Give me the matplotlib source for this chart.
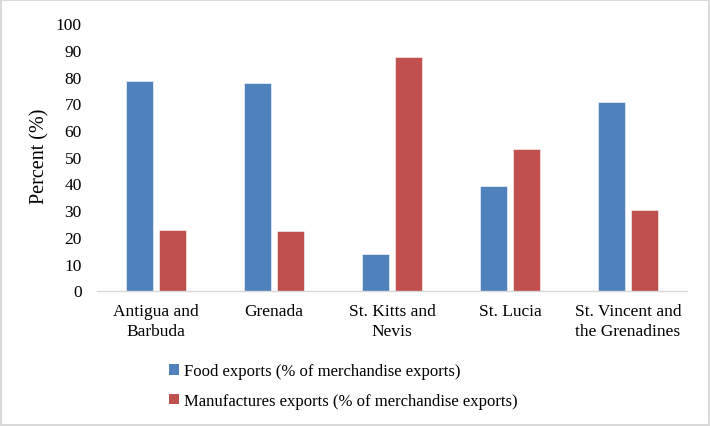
import matplotlib
matplotlib.use("Agg")
import matplotlib.pyplot as plt
from matplotlib.patches import Patch, Rectangle
import numpy as np

categories = ["Antigua and\nBarbuda", "Grenada", "St. Kitts and\nNevis", "St. Lucia",
              "St. Vincent and\nthe Grenadines"]
food = [78.5, 77.7, 13.8, 38.9, 70.4]
manuf = [22.6, 22.2, 87.2, 52.8, 30.0]
series_labels = ["Food exports (% of merchandise exports)",
                 "Manufactures exports (% of merchandise exports)"]
yticks = list(range(0, 101, 10))

blue = "#4F81BD"
red = "#C0504D"

plt.rcParams['font.family'] = ['Liberation Serif', 'DejaVu Serif']

fig = plt.figure(figsize=(7.10, 4.27), dpi=100)
W, H = 710, 427
left, right, top, bottom = 97, 687, 24, 291.5
ax = fig.add_axes([left / W, 1 - bottom / H, (right - left) / W, (bottom - top) / H])

x = np.arange(len(categories))
bw = 0.226
off = 0.1415
ax.bar(x - off, food, bw, color=blue, edgecolor="white", linewidth=0.4)
ax.bar(x + off, manuf, bw, color=red, edgecolor="white", linewidth=0.4)

ax.set_xlim(-0.5, len(categories) - 0.5)
ax.set_ylim(0, 100)
ax.set_yticks(yticks)
ax.set_yticklabels([str(t) for t in yticks], fontsize=12.5)
ax.set_xticks(x)
ax.set_xticklabels(categories, fontsize=12.5, linespacing=1.3)
ax.tick_params(axis='y', length=0, pad=11)
ax.tick_params(axis='x', length=0, pad=9)
for s in ["top", "right", "left"]:
    ax.spines[s].set_visible(False)
ax.spines["bottom"].set_color("#d9d9d9")
ax.spines["bottom"].set_linewidth(1.0)

fig.text(40 / W, 1 - 156 / H, "Percent (%)", rotation=90, fontsize=14.5,
         ha="center", va="center")

handles = [Patch(facecolor=blue), Patch(facecolor=red)]
leg = fig.legend(handles, series_labels, loc="upper left",
                 bbox_to_anchor=(161 / W, 1 - 356 / H), frameon=False,
                 fontsize=12, handlelength=0.6, handleheight=0.6,
                 handletextpad=0.3, labelspacing=0.8, borderpad=0)

fig.patches.append(Rectangle((0.0015, 0.0025), 0.997, 0.995, transform=fig.transFigure,
                             fill=False, edgecolor="#d9d9d9", linewidth=1.5))

fig.savefig("out.png", dpi=100)
